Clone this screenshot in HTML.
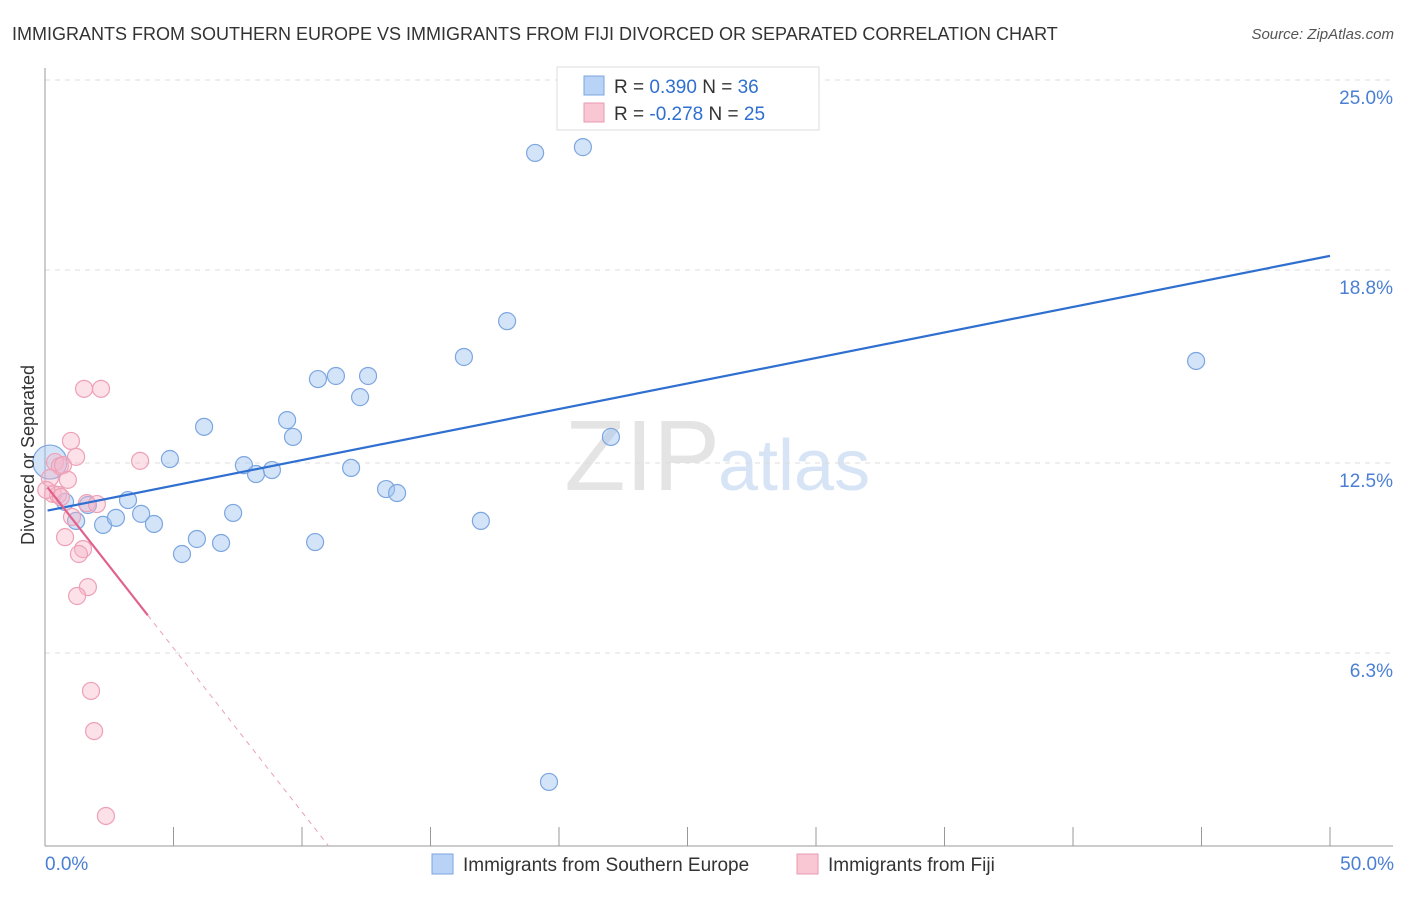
<!DOCTYPE html>
<html><head><meta charset="utf-8"><style>
body{margin:0;background:#fff;font-family:"Liberation Sans",sans-serif;}
svg text{font-family:"Liberation Sans",sans-serif;}
</style></head><body>
<svg id="c" width="1406" height="892" viewBox="0 0 1406 892">
<text x="12" y="40" font-size="18" fill="#333">IMMIGRANTS FROM SOUTHERN EUROPE VS IMMIGRANTS FROM FIJI DIVORCED OR SEPARATED CORRELATION CHART</text>
<text x="1394" y="39" font-size="15" fill="#555" font-style="italic" text-anchor="end">Source: ZipAtlas.com</text>
<text x="720" y="490" font-size="100" fill="#e4e4e4" font-family="Liberation Serif" text-anchor="end">ZIP</text>
<text x="718" y="490" font-size="72" fill="#d6e4f5">atlas</text>
<g id="grid"></g><g id="axes"></g><g id="pts"></g><g id="lines"></g>
<text transform="translate(34,455) rotate(-90)" font-size="18" fill="#333" text-anchor="middle">Divorced or Separated</text>
<text x="45" y="870" font-size="19" fill="#4a7fd4">0.0%</text>
<text x="1394" y="870" font-size="19" fill="#4a7fd4" text-anchor="end">50.0%</text>
<g>
<rect x="557" y="67" width="262" height="63" fill="#fff" stroke="#ddd"/>
<rect x="584" y="76" width="20" height="19" fill="#b8d3f5" stroke="#7ca6e0"/>
<rect x="584" y="103" width="20" height="19" fill="#f9c7d4" stroke="#e99ab0"/>
<text x="614" y="93" font-size="19" fill="#333">R = <tspan fill="#2f6fd0"> 0.390</tspan>   N = <tspan fill="#2f6fd0">36</tspan></text>
<text x="614" y="120" font-size="19" fill="#333">R = <tspan fill="#2f6fd0">-0.278</tspan>   N = <tspan fill="#2f6fd0">25</tspan></text>
</g>
<g>
<rect x="432" y="854" width="21" height="20" fill="#b8d3f5" stroke="#7ca6e0"/>
<text x="463" y="871" font-size="19" fill="#333">Immigrants from Southern Europe</text>
<rect x="797" y="854" width="21" height="20" fill="#f9c7d4" stroke="#e99ab0"/>
<text x="828" y="871" font-size="19" fill="#333">Immigrants from Fiji</text>
</g>
</svg>
<script>
const yTicks=[25.0,18.8,12.5,6.3];
const yTickLabels=["25.0%","18.8%","12.5%","6.3%"];
const blueX=[0.19,0.78,1.67,1.21,2.26,2.76,3.23,3.74,4.24,4.86,5.33,5.91,6.19,6.85,7.32,7.74,8.21,8.83,9.42,9.65,10.51,10.62,11.32,11.91,12.26,12.57,13.27,13.70,16.30,16.96,17.98,19.07,20.93,22.02,44.79,19.61];
const blueY=[12.53,11.23,11.13,10.61,10.48,10.71,11.29,10.84,10.51,12.63,9.53,10.02,13.68,9.89,10.87,12.43,12.14,12.27,13.90,13.35,9.92,15.24,15.34,12.34,14.65,15.34,11.65,11.52,15.96,10.61,17.13,22.62,22.81,13.35,15.83,2.09];
const pinkX=[0.39,0.58,0.19,0.70,0.89,1.01,1.21,0.31,0.51,0.62,1.52,2.18,3.70,1.63,2.02,1.05,0.78,1.48,1.32,1.67,1.25,1.79,1.91,2.37,0.05];
const pinkY=[12.53,12.40,12.01,12.43,11.95,13.22,12.70,11.49,11.46,11.39,14.92,14.92,12.57,11.19,11.16,10.74,10.08,9.69,9.53,8.45,8.16,5.06,3.75,0.98,11.62];
const blueLine=[10.93,19.26]; // y at x=0 and x=50
const pinkLine=[11.81,-1.07]; // intercept, slope
const NS="http://www.w3.org/2000/svg";
const X=v=>45+v*25.7, Y=v=>846-v*30.64;
function mk(t,a,p){const e=document.createElementNS(NS,t);for(const k in a)e.setAttribute(k,a[k]);document.getElementById(p).appendChild(e);return e;}
yTicks.forEach((t,i)=>{
 const g=mk('line',{x1:45,x2:1393,y1:Y(t),y2:Y(t),stroke:'#ddd','stroke-dasharray':'5,5'},'grid');
 
 
 const l=mk('text',{x:1393,y:Y(t)+24,'font-size':19,fill:'#4a7fd4','text-anchor':'end'},'grid');
 l.textContent=yTickLabels[i];
 
 
});
mk('line',{x1:45,x2:45,y1:68,y2:846,stroke:'#999'},'axes');
mk('line',{x1:45,x2:1393,y1:846,y2:846,stroke:'#999'},'axes');
for(let i=0;i<=10;i++){const t=mk('line',{x1:X(i*5),x2:X(i*5),y1:827,y2:846,stroke:'#999'},'axes');
 
 }
blueX.forEach((x,i)=>{const c=mk('circle',{cx:X(x),cy:Y(blueY[i]),r:i==0?17:8.5,fill:'rgba(160,196,240,0.45)',stroke:'#7ca6e0','stroke-width':1.2},'pts');
 
 });
pinkX.forEach((x,i)=>{const c=mk('circle',{cx:X(x),cy:Y(pinkY[i]),r:8.5,fill:'rgba(248,180,200,0.4)',stroke:'#eea0b6','stroke-width':1.2},'pts');
 
 });
const bl=mk('line',{x1:X(0.1),y1:Y(blueLine[0]+(blueLine[1]-blueLine[0])*0.002),x2:X(50),y2:Y(blueLine[1]),stroke:'#2f6fd0','stroke-width':2.2},'lines');


const pe=4.0, pz=-pinkLine[0]/pinkLine[1];
const pl=mk('line',{x1:X(0.1),y1:Y(pinkLine[0]+pinkLine[1]*0.1),x2:X(pe),y2:Y(pinkLine[0]+pinkLine[1]*pe),stroke:'#e0628c','stroke-width':2.2},'lines');


const pd=mk('line',{x1:X(pe),y1:Y(pinkLine[0]+pinkLine[1]*pe),x2:X(pz),y2:Y(0),stroke:'#eaa0b8','stroke-width':1,'stroke-dasharray':'5,5'},'lines');


</script>
</body></html>
